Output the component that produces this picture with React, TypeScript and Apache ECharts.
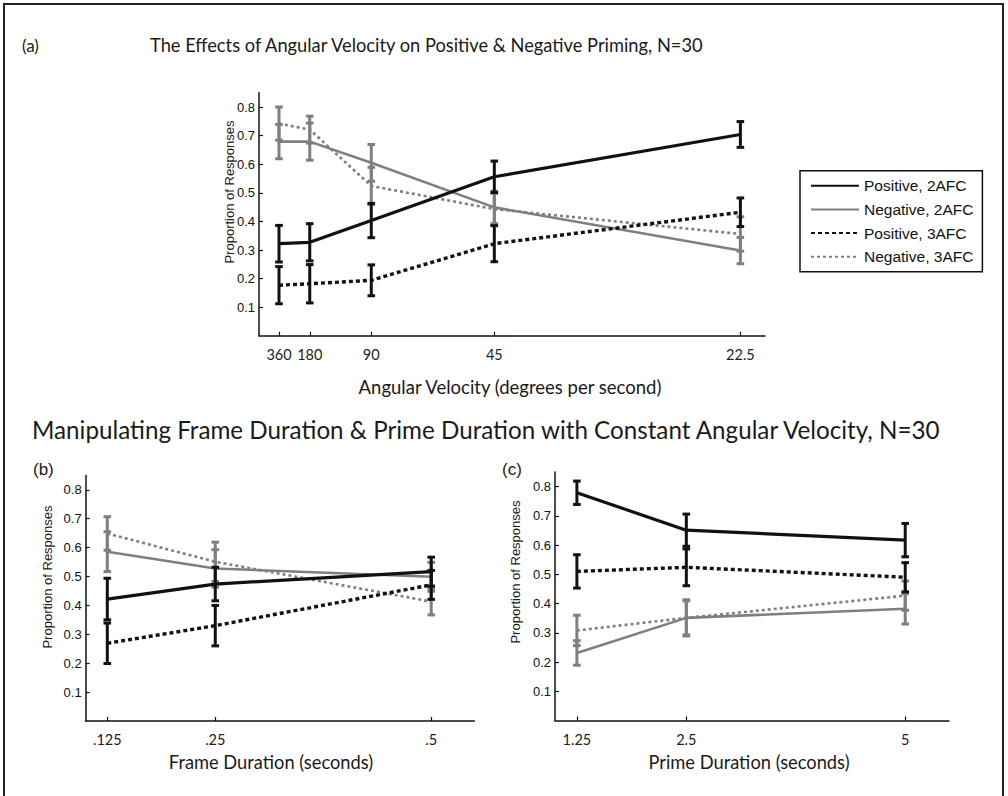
import React, { useEffect, useRef } from 'react';
import * as echarts from 'echarts';

const seriesNames = ['Positive, 2AFC', 'Negative, 2AFC', 'Positive, 3AFC', 'Negative, 3AFC'];

// Panel (a): x = rotation period (s); labels are angular velocity
const periodA = [1, 2, 4, 8, 16];
const velocityLabelsA = ['360', '180', '90', '45', '22.5'];
const posTwoA = [0.322, 0.327, 0.403, 0.556, 0.704];
const negTwoA = [0.679, 0.679, 0.605, 0.449, 0.298];
const posThreeA = [0.177, 0.182, 0.194, 0.322, 0.432];
const negThreeA = [0.742, 0.721, 0.524, 0.443, 0.356];
const posTwoErrA = [0.064, 0.065, 0.06, 0.055, 0.045];
const negTwoErrA = [0.06, 0.065, 0.064, 0.057, 0.046];
const posThreeErrA = [0.065, 0.067, 0.054, 0.063, 0.05];
const negThreeErrA = [0.058, 0.047, 0.065, 0.055, 0.06];

// Panel (b): frame duration (s)
const frameB = [0.125, 0.25, 0.5];
const frameLabelsB = ['.125', '.25', '.5'];
const posTwoB = [0.422, 0.474, 0.517];
const negTwoB = [0.586, 0.528, 0.499];
const posThreeB = [0.269, 0.33, 0.471];
const negThreeB = [0.649, 0.551, 0.413];
const posTwoErrB = [0.072, 0.058, 0.05];
const negTwoErrB = [0.069, 0.065, 0.05];
const posThreeErrB = [0.07, 0.07, 0.05];
const negThreeErrB = [0.058, 0.068, 0.046];

// Panel (c): prime duration (s)
const primeC = [1.25, 2.5, 5];
const primeLabelsC = ['1.25', '2.5', '5'];
const posTwoC = [0.779, 0.651, 0.617];
const negTwoC = [0.231, 0.351, 0.382];
const posThreeC = [0.51, 0.524, 0.49];
const negThreeC = [0.308, 0.351, 0.427];
const posTwoErrC = [0.04, 0.055, 0.057];
const negTwoErrC = [0.042, 0.062, 0.052];
const posThreeErrC = [0.057, 0.063, 0.05];
const negThreeErrC = [0.052, 0.058, 0.05];

const yTicks = [0.1, 0.2, 0.3, 0.4, 0.5, 0.6, 0.7, 0.8];

const BLACK = '#111111';
const GRAY = '#7f7f7f';

const styles = [
  { color: BLACK, width: 3.2, type: 'solid' as any },
  { color: GRAY, width: 2.6, type: 'solid' as any },
  { color: BLACK, width: 3.4, type: [4, 3] as any },
  { color: GRAY, width: 2.6, type: [3, 3] as any },
];

export default function App() {
  const ref = useRef<HTMLDivElement>(null);
  useEffect(() => {
    if (!ref.current) return;
    const chart = echarts.init(ref.current, undefined, { renderer: 'svg' });

    const panels = [
      {
        xs: periodA, labels: velocityLabelsA,
        ys: [posTwoA, negTwoA, posThreeA, negThreeA],
        errs: [posTwoErrA, negTwoErrA, posThreeErrA, negThreeErrA],
        grid: { left: 259, top: 92.7, width: 506, height: 243.1 },
        xmin: 0.35, xmax: 16.8,
      },
      {
        xs: frameB, labels: frameLabelsB,
        ys: [posTwoB, negTwoB, posThreeB, negThreeB],
        errs: [posTwoErrB, negTwoErrB, posThreeErrB, negThreeErrB],
        grid: { left: 85.7, top: 475.4, width: 388.7, height: 245.6 },
        xmin: 0.1, xmax: 0.55,
      },
      {
        xs: primeC, labels: primeLabelsC,
        ys: [posTwoC, negTwoC, posThreeC, negThreeC],
        errs: [posTwoErrC, negTwoErrC, posThreeErrC, negThreeErrC],
        grid: { left: 555, top: 472, width: 394, height: 248.5 },
        xmin: 1, xmax: 5.5,
      },
    ];

    const grids: any[] = [];
    const xAxes: any[] = [];
    const yAxes: any[] = [];
    const series: any[] = [];
    const drawOrder = [1, 3, 0, 2];

    panels.forEach((p, pi) => {
      grids.push({ ...p.grid, containLabel: false });
      xAxes.push({
        type: 'value', gridIndex: pi, min: p.xmin, max: p.xmax,
        axisLine: { show: true, onZero: false, lineStyle: { color: BLACK, width: 1.5 } },
        axisTick: { show: true, inside: true, length: 4, customValues: p.xs, lineStyle: { color: BLACK, width: 1.2 } },
        axisLabel: {
          show: true, customValues: p.xs, margin: 11,
          formatter: (v: number) => {
            const i = p.xs.findIndex((x) => Math.abs(x - v) < 1e-9);
            return i >= 0 ? p.labels[i] : '';
          },
          fontFamily: 'Lato', fontSize: 14.5, color: '#222',
        },
        splitLine: { show: false },
      });
      yAxes.push({
        type: 'value', gridIndex: pi, min: 0, max: 0.85,
        axisLine: { show: true, onZero: false, lineStyle: { color: BLACK, width: 1.5 } },
        axisTick: { show: true, inside: true, length: 4, customValues: yTicks, lineStyle: { color: BLACK, width: 1.2 } },
        axisLabel: {
          show: true, customValues: yTicks, margin: 4,
          formatter: (v: number) => v.toFixed(1),
          fontFamily: 'Liberation Sans', fontSize: 13, color: '#111',
        },
        splitLine: { show: false },
      });

      drawOrder.forEach((si) => {
        const st = styles[si];
        series.push({
          type: 'line', name: seriesNames[si], xAxisIndex: pi, yAxisIndex: pi,
          data: p.xs.map((x, k) => [x, p.ys[si][k]]),
          symbol: 'none', showSymbol: false, silent: true,
          lineStyle: { color: st.color, width: st.width, type: st.type },
          itemStyle: { color: st.color },
          z: si === 0 || si === 2 ? 4 : 3,
        });
        series.push({
          type: 'custom', name: seriesNames[si] + ' error', xAxisIndex: pi, yAxisIndex: pi,
          data: p.xs.map((x, k) => [x, p.ys[si][k] - p.errs[si][k], p.ys[si][k] + p.errs[si][k]]),
          encode: { x: 0, y: [1, 2] },
          silent: true,
          z: si === 0 || si === 2 ? 4 : 3,
          renderItem: (params: any, api: any) => {
            const x = api.value(0);
            const top = api.coord([x, api.value(2)]);
            const bot = api.coord([x, api.value(1)]);
            const hw = 3.8;
            const style = { stroke: st.color, lineWidth: 3 };
            return {
              type: 'group',
              children: [
                { type: 'line', shape: { x1: top[0], y1: top[1], x2: bot[0], y2: bot[1] }, style },
                { type: 'line', shape: { x1: top[0] - hw, y1: top[1], x2: top[0] + hw, y2: top[1] }, style },
                { type: 'line', shape: { x1: bot[0] - hw, y1: bot[1], x2: bot[0] + hw, y2: bot[1] }, style },
              ],
            };
          },
        });
      });
    });

    const txt = (text: string, x: number, y: number, font: string, size: number, extra: any = {}) => ({
      type: 'text', x, y, silent: true,
      style: { text, fontFamily: font, fontSize: size, fill: '#1a1a1a', align: 'left', verticalAlign: 'middle', ...extra },
    });

    const graphic: any[] = [
      { type: 'rect', silent: true, shape: { x: 4, y: 4, width: 999, height: 800 }, style: { fill: 'none', stroke: '#222', lineWidth: 2 } },
      txt('(a)', 22, 45, 'Lato', 17),
      txt('The Effects of Angular Velocity on Positive & Negative Priming, N=30', 150, 45, 'Lato', 18.3),
      txt('Angular Velocity (degrees per second)', 510, 387, 'Lato', 18.5, { align: 'center' }),
      txt('Manipulating Frame Duration & Prime Duration with Constant Angular Velocity, N=30', 32, 429, 'Lato', 24.2),
      txt('(b)', 33, 469, 'Liberation Sans', 17),
      txt('(c)', 502, 469, 'Liberation Sans', 17),
      txt('Frame Duration (seconds)', 271, 762, 'Lato', 18.3, { align: 'center' }),
      txt('Prime Duration (seconds)', 749, 762, 'Lato', 18.3, { align: 'center' }),
      { ...txt('Proportion of Responses', 229, 192, 'Liberation Sans', 13, { align: 'center' }), rotation: Math.PI / 2 },
      { ...txt('Proportion of Responses', 47, 577, 'Liberation Sans', 13, { align: 'center' }), rotation: Math.PI / 2 },
      { ...txt('Proportion of Responses', 515, 572, 'Liberation Sans', 13, { align: 'center' }), rotation: Math.PI / 2 },
    ];

    chart.setOption({
      animation: false,
      backgroundColor: '#ffffff',
      grid: grids,
      xAxis: xAxes,
      yAxis: yAxes,
      series,
      legend: {
        data: seriesNames,
        orient: 'vertical',
        left: 800, top: 170.7,
        itemWidth: 48, itemHeight: 14, itemGap: 7.7,
        padding: [7, 9, 7, 10],
        borderColor: '#111', borderWidth: 1.5,
        backgroundColor: '#fff',
        selectedMode: false,
        itemStyle: { opacity: 0 },
        textStyle: { fontFamily: 'Liberation Sans', fontSize: 15.5, color: '#111' },
      },
      graphic,
    });
    return () => chart.dispose();
  }, []);
  return <div ref={ref} style={{ position: 'fixed', left: 0, top: 0, width: 1008, height: 796, background: '#fff' }} />;
}
